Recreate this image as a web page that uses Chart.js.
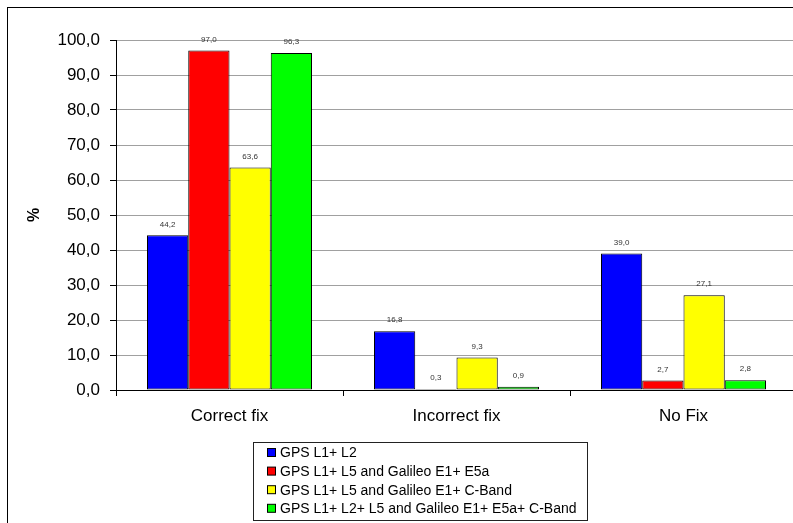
<!DOCTYPE html>
<html>
<head>
<meta charset="utf-8">
<script src="https://cdn.jsdelivr.net/npm/chart.js@4"></script>
<style>
  body { margin: 0; overflow: hidden; background: #fff; }
  .wrap { position: relative; width: 800px; height: 523px; }
</style>
</head>
<body>
<div class="wrap"><canvas id="chart"></canvas></div>
<script>
const categories = ['Correct fix', 'Incorrect fix', 'No Fix']
const seriesNames = [
    'GPS L1+ L2',
    'GPS L1+ L5 and Galileo E1+ E5a',
    'GPS L1+ L5 and Galileo E1+ C-Band',
    'GPS L1+ L2+ L5 and Galileo E1+ E5a+ C-Band'
]
const gpsL1L2 = [44.2, 16.8, 39.0]
const gpsL5GalE5a = [97.0, 0.3, 2.7]
const gpsL5GalCBand = [63.6, 9.3, 27.1]
const allBands = [96.3, 0.9, 2.8]
const seriesColors = ['#0000ff', '#ff0000', '#ffff00', '#00ff00']
const yTicks = [0, 10, 20, 30, 40, 50, 60, 70, 80, 90, 100]

const fmt = v => v.toFixed(1).replace('.', ',')
const fontFamily = 'Arial, "Liberation Sans", sans-serif'

const ctx = document.getElementById('chart').getContext('2d')

const seriesValues = [gpsL1L2, gpsL5GalE5a, gpsL5GalCBand, allBands]

// frame, value labels and boxed legend
const extras = {
    id: 'extras',
    beforeDraw(chart) {
        const c = chart.ctx
        c.save()
        c.fillStyle = '#fff'
        c.fillRect(0, 0, chart.width, chart.height)
        c.strokeStyle = '#000'
        c.lineWidth = 1
        c.strokeRect(7.5, 7.5, 900, 600)
        c.restore()
    },
    afterDraw(chart) {
        const c = chart.ctx
        c.save()
        c.font = '8px ' + fontFamily
        c.fillStyle = '#333'
        c.textAlign = 'center'
        c.textBaseline = 'middle'
        chart.data.datasets.forEach((ds, i) => {
            chart.getDatasetMeta(i).data.forEach((bar, j) => {
                c.fillText(fmt(ds.data[j]), bar.x, bar.y - 11)
            })
        })

        c.strokeStyle = '#222'
        c.lineWidth = 1
        c.strokeRect(253.5, 442.5, 334, 78)
        c.font = '14px ' + fontFamily
        c.textAlign = 'left'
        c.fillStyle = '#000'
        chart.data.datasets.forEach((ds, i) => {
            const y = 452.5 + i * 18.6
            c.fillStyle = ds.backgroundColor
            c.fillRect(267.5, y - 4, 8, 8)
            c.strokeStyle = '#000'
            c.strokeRect(267.5, y - 4, 8, 8)
            c.fillStyle = '#000'
            c.fillText(ds.label, 280, y + 1)
        })
        c.restore()
    }
}

new Chart(ctx, {
    type: 'bar',
    data: {
        labels: categories,
        datasets: seriesNames.map((name, i) => ({
            label: name,
            data: seriesValues[i],
            backgroundColor: seriesColors[i],
            borderColor: '#000',
            borderWidth: 1,
            borderSkipped: false,
            barPercentage: 1,
            categoryPercentage: 0.727
        }))
    },
    options: {
        responsive: true,
        maintainAspectRatio: false,
        animation: false,
        layout: { padding: { top: 40, right: 3, left: 0, bottom: 0 } },
        plugins: {
            legend: { display: false },
            tooltip: { enabled: false }
        },
        scales: {
            x: {
                afterFit: scale => { scale.height = 133 },
                grid: { drawOnChartArea: false, drawTicks: true, tickLength: 6, tickColor: '#000', offset: true },
                border: { color: '#000', width: 1 },
                ticks: { color: '#000', padding: 10, font: { size: 17, family: fontFamily } }
            },
            y: {
                min: 0,
                max: 100,
                afterFit: scale => { scale.width = 116 },
                afterBuildTicks: scale => { scale.ticks = yTicks.map(v => ({ value: v })) },
                grid: {
                    color: c => c.tick && c.tick.value === 0 ? '#000' : '#a0a0a0',
                    tickColor: '#000',
                    tickLength: 6
                },
                border: { color: '#000', width: 1 },
                ticks: {
                    color: '#000',
                    padding: 10,
                    font: { size: 17, family: fontFamily },
                    callback: v => fmt(v)
                },
                title: {
                    display: true,
                    text: '%',
                    color: '#000',
                    padding: { top: 25, bottom: 0 },
                    font: { size: 16, weight: 'bold', family: fontFamily }
                }
            }
        }
    },
    plugins: [extras]
})
</script>
</body>
</html>
